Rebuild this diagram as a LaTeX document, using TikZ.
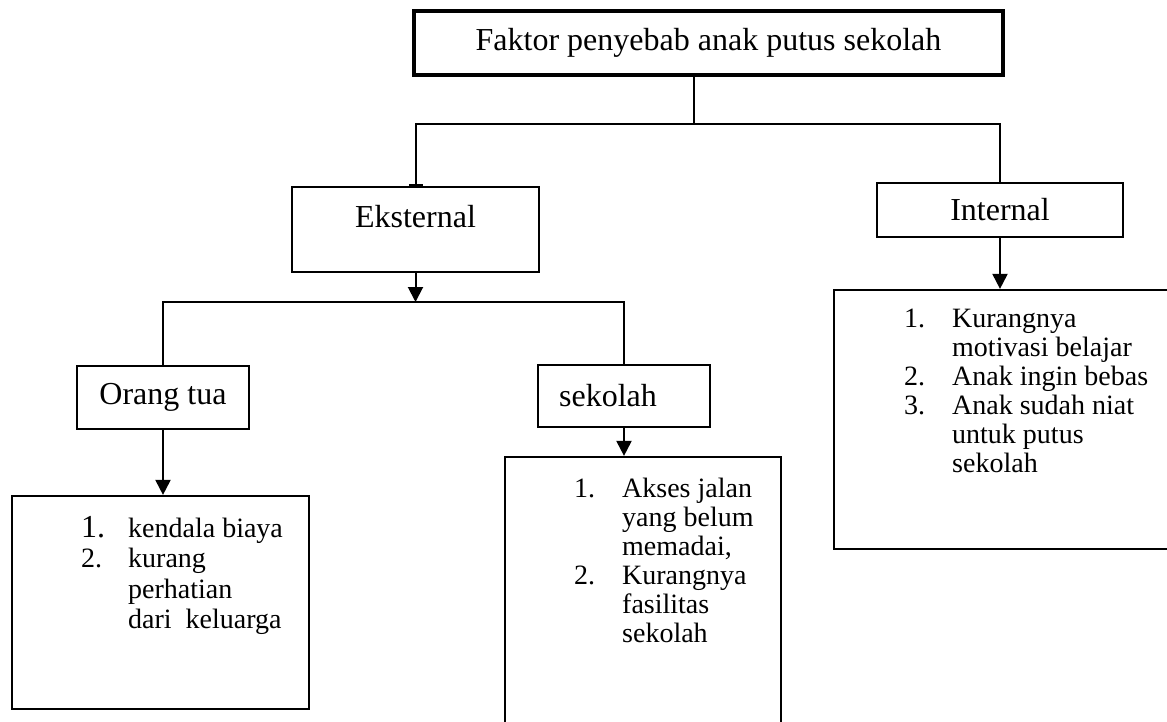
\documentclass[tikz,border=0pt]{standalone}
\usepackage{fontspec}
\setmainfont{Liberation Serif}
\usetikzlibrary{arrows.meta}

\begin{document}
\begin{tikzpicture}[x=1pt,y=-1pt]
        \tikzstyle{every node}=[inner sep=0pt, font=\fontsize{32}{38}\selectfont]
        \tikzstyle{box}=[draw, rectangle, line width=2.2pt]
        \tikzstyle{line}=[line width=2pt]
        \tikzstyle{arr}=[line width=2pt, -{Triangle[width=15pt,length=15pt]}]
        \tikzstyle{list}=[anchor=base west]

        \useasboundingbox (0,0) rectangle (1167,722);

        \node[box, line width=4pt, minimum width=589pt, minimum height=63.5pt](faktor)at(708.5,43.25){Faktor penyebab anak putus sekolah};

        \node[box, minimum width=247pt, minimum height=85pt](eks)at(415.5,229.5){};
        \node[](eksT)at(415.5,217){Eksternal};
        \node[box, minimum width=246pt, minimum height=54pt](int)at(1000,210){Internal};

        \node[box, minimum width=172pt, minimum height=63pt](ortu)at(163,397.5){Orang tua};
        \node[box, minimum width=172pt, minimum height=62pt](sek)at(624,396){};
        \node[](sekT)at(608,396){sekolah};

        \node[box, minimum width=297pt, minimum height=213pt](ortuL)at(160.5,602.5){};
        \node[box, minimum width=276pt, minimum height=303pt](sekL)at(643,608.5){};
        \node[box, minimum width=366pt, minimum height=259pt](intL)at(1017,419.5){};

        \node[list, font=\fontsize{28}{30.5}\selectfont](ortuT)at(81,537){%
            \begin{tabular}[t]{@{}p{47pt}@{}l@{}}
                {\fontsize{32}{30}\selectfont 1.} & kendala biaya\\
                2. & kurang\\
                   & perhatian\\
                   & dari~ keluarga
            \end{tabular}};
        \node[list, font=\fontsize{28}{29}\selectfont](sekLT)at(574,497){%
            \begin{tabular}[t]{@{}p{48pt}@{}l@{}}
                1. & Akses jalan\\
                   & yang belum\\
                   & memadai,\\
                2. & Kurangnya\\
                   & fasilitas\\
                   & sekolah
            \end{tabular}};
        \node[list, font=\fontsize{28}{29}\selectfont](intLT)at(904,327){%
            \begin{tabular}[t]{@{}p{48pt}@{}l@{}}
                1. & Kurangnya\\
                   & motivasi belajar\\
                2. & Anak ingin bebas\\
                3. & Anak sudah niat\\
                   & untuk putus\\
                   & sekolah
            \end{tabular}};

        % cabang atas
        \coordinate (j1) at (694,124);
        \draw[line] (j1 |- faktor.south) -- (j1);
        \draw[line, {Bar[width=14pt]}-] (eks.north) |- (j1) -| (int.north);

        % cabang eksternal
        \coordinate (j2) at (415.5,302);
        \draw[arr] (eks.south) -- (j2);
        \draw[line] (ortu.north) |- (j2) -| (sek.north);

        \draw[arr] (ortu.south) -- (ortu.south |- ortuL.north);
        \draw[arr] (sek.south) -- (sek.south |- sekL.north);
        \draw[arr] (int.south) -- (int.south |- intL.north);
    \end{tikzpicture}
\end{document}
